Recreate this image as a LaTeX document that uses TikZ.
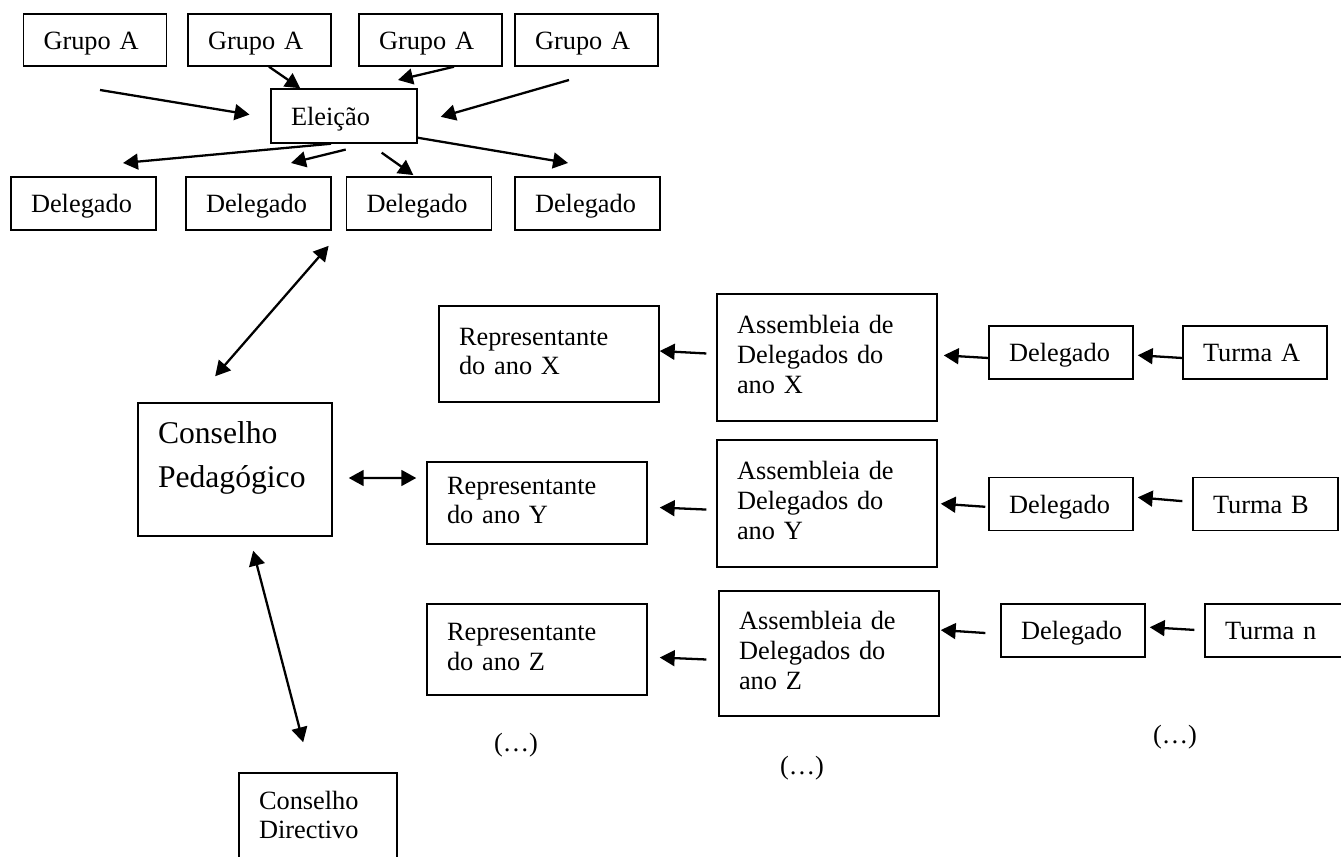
\documentclass[tikz,border=0pt]{standalone}
\usepackage{fontspec}
\setmainfont{Liberation Serif}
\usetikzlibrary{arrows.meta}
\begin{document}
\begin{tikzpicture}[x=0.02cm, y=-0.02cm, >={Triangle[length=8.5pt,width=9pt]},
    caixa/.style={draw, line width=0.85pt, text width=#1, align=left, inner xsep=0.4cm, inner ysep=0pt,
      font=\fontsize{15}{17}\selectfont, execute at begin node=\strut, execute at end node=\strut},
    linha/.style={text height=12pt, text depth=1.7pt},
    seta/.style={->, line width=1.3pt},
    dupla/.style={<->, line width=1.3pt},
    reticencias/.style={font=\fontsize{15}{17}\selectfont}]
      \clip (0,0) rectangle (1341,857);
      \node[caixa=2.06cm, linha, minimum height=1.04cm] (g1) at (95,40) {Grupo A};
      \node[caixa=2.06cm, linha, minimum height=1.04cm] (g2) at (259.5,40) {Grupo A};
      \node[caixa=2.06cm, linha, minimum height=1.04cm] (g3) at (430.5,40) {Grupo A};
      \node[caixa=2.06cm, linha, minimum height=1.04cm] (g4) at (586.5,40) {Grupo A};
      \node[caixa=2.12cm, linha, minimum height=1.08cm] (el) at (344,116) {Eleição};
      \node[caixa=2.1cm, linha, minimum height=1.06cm] (d1) at (83.5,203.5) {Delegado};
      \node[caixa=2.1cm, linha, minimum height=1.06cm] (d2) at (258.5,203.5) {Delegado};
      \node[caixa=2.1cm, linha, minimum height=1.06cm] (d3) at (419,203.5) {Delegado};
      \node[caixa=2.1cm, linha, minimum height=1.06cm] (d4) at (587.5,203.5) {Delegado};
      \node[caixa=3.08cm, minimum height=2.66cm, font=\fontsize{18}{25}\selectfont, text depth=47pt] (CP) at (235,469.5) {Conselho\\Pedagógico};
      \node[caixa=2.36cm, minimum height=1.8cm] (CD) at (318,818) {Conselho\\Directivo};
      \node[caixa=3.6cm, minimum height=1.92cm] (repX) at (549,354) {Representante\\do ano X};
      \node[caixa=3.6cm, minimum height=2.54cm] (asmX) at (827,357.5) {Assembleia de\\Delegados do\\ano X};
      \node[caixa=2.08cm, linha, minimum height=1.06cm] (delX) at (1061,352.5) {Delegado};
      \node[caixa=2.08cm, linha, minimum height=1.06cm] (turA) at (1255,352.5) {Turma A};
      \node[caixa=3.6cm, minimum height=1.64cm] (repY) at (537,503) {Representante\\do ano Y};
      \node[caixa=3.6cm, minimum height=2.54cm] (asmY) at (827,503.5) {Assembleia de\\Delegados do\\ano Y};
      \node[caixa=2.08cm, linha, minimum height=1.06cm] (delY) at (1061,504) {Delegado};
      \node[caixa=2.1cm, linha, minimum height=1.06cm] (turB) at (1265.5,504) {Turma B};
      \node[caixa=3.6cm, minimum height=1.82cm] (repZ) at (537,649.5) {Representante\\do ano Z};
      \node[caixa=3.6cm, minimum height=2.5cm] (asmZ) at (829,653.5) {Assembleia de\\Delegados do\\ano Z};
      \node[caixa=2.08cm, linha, minimum height=1.06cm] (delZ) at (1073,630.5) {Delegado};
      \node[caixa=2.08cm, linha, minimum height=1.06cm] (turN) at (1277,630.5) {Turma n};
      \node[reticencias] (ret1) at (516,745) {(…)};
      \node[reticencias] (ret2) at (802,768) {(…)};
      \node[reticencias] (ret3) at (1175,737) {(…)};
      \coordinate (gl) at (100,90);
      \coordinate (g3p) at (398,80);
      \coordinate (g4p) at (569,80);
      \coordinate (d1p) at (123,163);
      \coordinate (d2p) at (291,163);
      \coordinate (d4p) at (568,163);
      \draw[seta, shorten >=0.42cm] (gl) -- ([yshift=-0.04cm]el.west);
      \draw[seta] ([xshift=0.19cm]g2.south) -- ([xshift=0.6cm]el.north west);
      \draw[seta] ([xshift=0.47cm]g3.south) -- (g3p);
      \draw[seta, shorten >=0.48cm] (g4p) -- ([yshift=-0.15cm]el.east);
      \draw[seta] ([xshift=-0.26cm]el.south) -- (d1p);
      \draw[seta, shorten <=0.49cm] ([xshift=0.51cm]el.south) -- (d2p);
      \draw[seta, shorten <=0.31cm, shorten >=0.04cm] ([xshift=0.5cm]el.south) -- ([xshift=-0.08cm]d3.north);
      \draw[seta] ([yshift=0.12cm]el.south east) -- (d4p);
      \draw[dupla, shorten <=0.4cm, shorten >=0.69cm] ([xshift=-0.08cm]d3.south west) -- ([xshift=-0.85cm]CP.north);
      \draw[dupla, shorten <=0.32cm, shorten >=0.2cm] ([yshift=-0.17cm]CP.east) -- ([yshift=0.5cm]repY.west);
      \draw[dupla, shorten <=0.29cm, shorten >=0.62cm] ([xshift=0.29cm]CP.south) -- ([xshift=-0.14cm]CD.north);
      \draw[seta, shorten <=0.2cm] ([yshift=0.07cm]asmX.west) -- ([yshift=0.06cm]repX.east);
      \draw[seta, shorten >=0.12cm] ([yshift=-0.11cm]delX.west) -- ([yshift=0.05cm]asmX.east);
      \draw[seta, shorten >=0.08cm] ([yshift=-0.11cm]turA.west) -- ([yshift=-0.05cm]delX.east);
      \draw[seta, shorten <=0.2cm, shorten >=0.24cm] ([yshift=-0.13cm]asmY.west) -- ([yshift=-0.08cm]repY.east);
      \draw[seta, shorten <=0.06cm, shorten >=0.06cm] ([yshift=-0.06cm]delY.west) -- (asmY.east);
      \draw[seta, shorten <=0.2cm, shorten >=0.08cm] ([yshift=0.04cm]turB.west) -- ([yshift=0.14cm]delY.east);
      \draw[seta, shorten <=0.24cm, shorten >=0.24cm] ([yshift=-0.13cm]asmZ.west) -- ([yshift=-0.15cm]repZ.east);
      \draw[seta, shorten <=0.3cm, shorten >=0.02cm] ([yshift=-0.07cm]delZ.west) -- ([yshift=0.47cm]asmZ.east);
      \draw[seta, shorten <=0.2cm, shorten >=0.08cm] (turN.west) -- ([yshift=0.07cm]delZ.east);
    \end{tikzpicture}
\end{document}
